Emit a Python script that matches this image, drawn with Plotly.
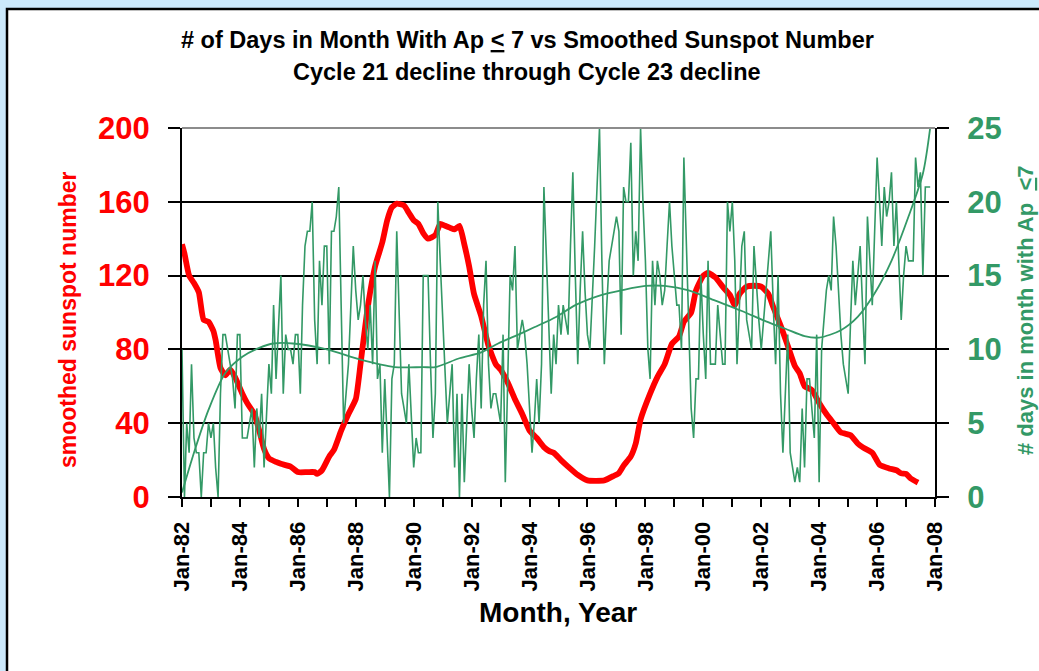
import pandas as pd
import plotly.graph_objects as go

# ---------------- data ----------------
start_month = "1982-01-01"

# number of days in month with Ap <= 7, monthly from Jan-1982
days_ap_le7 = [
    10, 0, 5, 3, 9, 4, 3, 3, 0, 3, 3, 5,          # 1982
    4, 5, 2, 0, 7, 11, 11, 10, 9, 8, 6, 11,       # 1983
    11, 4, 4, 4, 5, 6, 2, 6, 4, 7, 2, 5,          # 1984
    9, 7, 13, 8, 11, 15, 7, 11, 10, 10, 9, 11,    # 1985
    11, 7, 13, 17, 18, 18, 20, 12, 9, 16, 13, 17, # 1986
    17, 9, 18, 18, 19, 21, 13, 5, 7, 9, 13, 17,   # 1987
    14, 12, 13, 15, 12, 10, 13, 9, 16, 8, 9, 3,   # 1988
    8, 3, 0, 8, 9, 18, 12, 7, 6, 5, 9, 5,         # 1989
    2, 4, 3, 3, 15, 15, 15, 9, 4, 7, 20, 16,      # 1990
    12, 8, 5, 7, 9, 2, 7, 0, 7, 1, 5, 9,          # 1991
    6, 4, 8, 11, 6, 13, 16, 9, 6, 7, 7, 6,        # 1992
    5, 11, 1, 8, 15, 14, 17, 10, 11, 12, 11, 9,   # 1993
    6, 3, 5, 8, 5, 9, 21, 16, 11, 7, 11, 9,       # 1994
    13, 11, 13, 12, 11, 17, 22, 15, 9, 14, 18, 14,  # 1995
    11, 10, 14, 17, 21, 25, 16, 9, 13, 16, 17, 18,  # 1996
    19, 18, 11, 21, 20, 20, 24, 15, 18, 16, 25, 20, # 1997
    16, 10, 8, 16, 13, 16, 15, 13, 14, 17, 20, 17,  # 1998
    15, 13, 13, 10, 23, 17, 11, 6, 4, 8, 8, 15,     # 1999
    11, 8, 16, 9, 9, 9, 13, 11, 9, 9, 20, 18,       # 2000
    20, 16, 9, 13, 17, 18, 12, 11, 10, 17, 14, 12,  # 2001
    10, 12, 14, 16, 18, 13, 9, 15, 7, 3, 7, 11,     # 2002
    3, 2, 1, 2, 1, 6, 2, 8, 8, 6, 4, 11,            # 2003
    1, 10, 12, 14, 15, 14, 19, 17, 14, 11, 9, 8,    # 2004
    7, 12, 16, 13, 15, 17, 13, 9, 19, 16, 13, 18,   # 2005
    23, 20, 17, 21, 19, 20, 22, 17, 20, 16, 12, 15, # 2006
    17, 16, 16, 16, 23, 21, 22, 15, 21, 21, 21,     # 2007
]

# smoothed sunspot number: months after Jan-1982, value
ssn_month = [0, 1, 3, 5, 7, 9, 11, 13, 14, 16, 18, 20, 22, 25, 27, 30, 32, 34, 36, 39,
             41, 45, 48, 52, 55, 56, 58, 61, 63, 66, 69, 72, 74, 77, 80, 83, 85, 87, 89, 92,
             94, 96, 98, 100, 102, 105, 107, 109, 111, 113, 115, 117, 119, 121, 124, 127, 130, 132, 135, 138,
             141, 144, 147, 150, 152, 154, 157, 160, 164, 168, 175, 179, 181, 183, 186, 188, 190, 194, 197, 200,
             203, 206, 208, 211, 213, 216, 218, 221, 224, 227, 229, 231, 234, 237, 240, 243, 245, 248, 251, 254,
             256, 258, 261, 264, 267, 270, 273, 277, 280, 282, 286, 289, 293, 296, 298, 300, 302, 305]
ssn_value = [137, 132, 120, 116, 111, 96, 95, 90, 85, 70, 66, 69, 65, 56, 51, 45, 36, 26, 21, 19,
             18, 16.5, 13.5, 13.5, 13.5, 12.5, 14.5, 22, 25.5, 36, 45, 53, 72, 103, 125, 138, 150, 157, 159, 158,
             154, 150, 148, 143, 140, 142, 148, 147, 146, 145, 147, 137, 125, 110, 98, 82, 72, 69, 62, 53,
             45, 36, 32, 27, 25, 24, 20, 16.5, 12, 9, 9, 11.5, 13, 17, 22, 29, 42, 56, 65, 72,
             83, 87, 95, 100, 112, 120, 121.5, 119, 114, 109.5, 104, 110, 114, 114.5, 114, 110, 103, 93, 82, 71,
             67, 60, 58, 51, 45, 40, 35, 33.5, 29, 27, 24, 17.5, 15.5, 14.5, 12.8, 12.5, 10, 7.8]

# trend line of the monthly day counts (months after Jan-1982, days)
trend_month = [0, 5, 11, 18, 25, 32, 38, 46, 60, 74, 88, 100, 105, 115, 124, 131, 138, 146, 155, 163,
               174, 182, 192, 200, 210, 221, 232, 242, 250, 258, 264, 273, 280, 287, 294, 301, 307, 310]
trend_value = [0.3, 3, 5.9, 8.4, 9.5, 10.1, 10.4, 10.4, 10, 9.3, 8.8, 8.8, 8.8, 9.4, 9.8, 10.4, 10.9, 11.5, 12.2, 13,
               13.7, 14, 14.3, 14.3, 14, 13.3, 12.6, 11.9, 11.4, 10.9, 10.8, 11.3, 12.2, 13.8, 16, 19, 21.9, 25]

# ---------------- helpers ----------------
t0 = pd.Timestamp(start_month)
def month_dates(offsets):
    return [(t0 + pd.DateOffset(months=int(m))).strftime("%Y-%m-%d") for m in offsets]

days_dates = pd.date_range(start_month, periods=len(days_ap_le7), freq="MS").strftime("%Y-%m-%d").tolist()
ssn_dates = month_dates(ssn_month)
trend_dates = month_dates(trend_month)

RED = "#ff0000"
GREEN = "#339966"
FONT = "Liberation Sans, Arial, sans-serif"

W, H = 1039, 671
L, R, T, B = 182, 935, 128, 497   # plot area pixel bounds
pw, ph = R - L, B - T
def px(x):
    return (x - L) / pw
def py(y):
    return (B - y) / ph

fig = go.Figure()
fig.add_trace(go.Scatter(x=ssn_dates, y=ssn_value, mode="lines", yaxis="y",
                         line=dict(color=RED, width=5.8, shape="spline", smoothing=0.5),
                         showlegend=False, hoverinfo="skip"))
fig.add_trace(go.Scatter(x=days_dates, y=days_ap_le7, mode="lines", yaxis="y2",
                         line=dict(color=GREEN, width=1.6), showlegend=False))
fig.add_trace(go.Scatter(x=trend_dates, y=trend_value, mode="lines", yaxis="y2",
                         line=dict(color=GREEN, width=1.8, shape="spline", smoothing=0.8),
                         showlegend=False, hoverinfo="skip"))

fig.update_layout(
    width=W, height=H, autosize=False,
    paper_bgcolor="#cce9fc", plot_bgcolor="white",
    margin=dict(l=L, r=W - R, t=T, b=H - B, pad=0),
    showlegend=False,
    xaxis=dict(
        type="date", range=["1982-01-01", "2008-01-01"],
        tick0="1982-01-01", dtick="M24", tickformat="%b-%y", tickangle=-90,
        ticks="outside", ticklen=8, tickwidth=2, tickcolor="black",
        showline=True, linecolor="black", linewidth=2, showgrid=False, zeroline=False,
        tickfont=dict(family=FONT, size=22, color="black", weight="bold"),
        ticklabelstandoff=6,
        minor=dict(dtick="M12", tick0="1982-01-01", ticks="outside", ticklen=8,
                   tickwidth=2, tickcolor="black", showgrid=False),
    ),
    yaxis=dict(
        range=[0, 200], tick0=0, dtick=40,
        showgrid=True, gridcolor="black", gridwidth=2,
        showline=True, linecolor="black", linewidth=2, zeroline=False,
        ticks="outside", ticklen=12, tickwidth=2, tickcolor="black",
        tickfont=dict(family=FONT, size=31, color=RED, weight="bold"),
        ticklabelstandoff=12,
    ),
    yaxis2=dict(
        range=[0, 25], tick0=0, dtick=5, overlaying="y", side="right",
        showgrid=False, showline=True, linecolor="black", linewidth=2, zeroline=False,
        ticks="outside", ticklen=12, tickwidth=2, tickcolor="black",
        tickfont=dict(family=FONT, size=31, color=GREEN, weight="bold"),
        ticklabelstandoff=12,
    ),
    shapes=[
        dict(type="rect", xref="paper", yref="paper", layer="below",
             x0=px(7), x1=px(W + 10), y0=py(H + 10), y1=py(9),
             fillcolor="white", line=dict(color="black", width=2.5)),
        dict(type="line", xref="paper", yref="paper", layer="above",
             x0=0, x1=1, y0=1, y1=1, line=dict(color="#8c8c8c", width=2)),
    ],
    annotations=[
        dict(text="# of Days in Month With Ap <u>&lt;</u> 7 vs Smoothed Sunspot Number",
             xref="paper", yref="paper", x=px(527), y=py(40), xanchor="center", yanchor="middle",
             showarrow=False, font=dict(family=FONT, size=23.5, color="black", weight="bold")),
        dict(text="Cycle 21 decline through Cycle 23 decline",
             xref="paper", yref="paper", x=px(527), y=py(72), xanchor="center", yanchor="middle",
             showarrow=False, font=dict(family=FONT, size=23.5, color="black", weight="bold")),
        dict(text="Month, Year",
             xref="paper", yref="paper", x=px(558), y=py(612), xanchor="center", yanchor="middle",
             showarrow=False, font=dict(family=FONT, size=28, color="black", weight="bold")),
        dict(text="smoothed sunspot number", textangle=-90,
             xref="paper", yref="paper", x=px(68), y=py(320), xanchor="center", yanchor="middle",
             showarrow=False, font=dict(family=FONT, size=23, color=RED, weight="bold")),
        dict(text="# days in month with Ap  <u>&lt;</u>7", textangle=-90,
             xref="paper", yref="paper", x=px(1025), y=py(310), xanchor="center", yanchor="middle",
             showarrow=False, font=dict(family=FONT, size=22, color=GREEN, weight="bold")),
    ],
)

fig.write_html("out.html", config={"displayModeBar": False},
               post_script="document.body.style.margin='0px';document.body.style.overflow='hidden';")
